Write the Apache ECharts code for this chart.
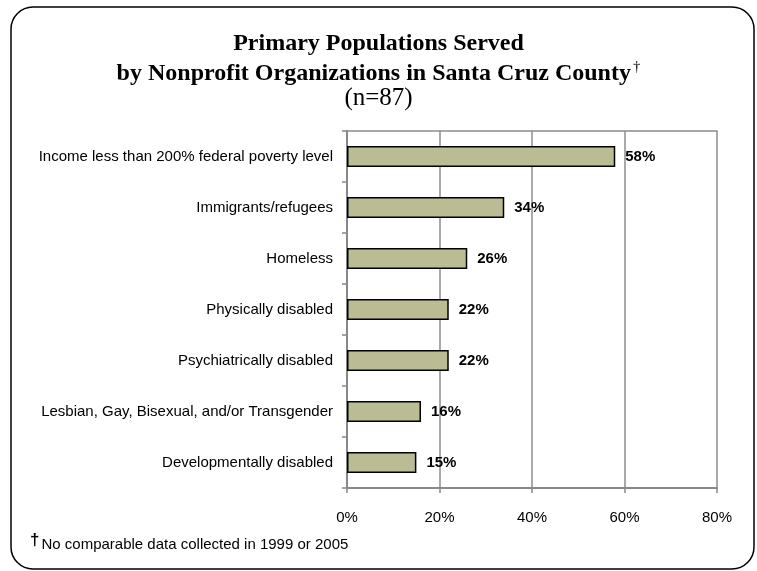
<!DOCTYPE html>
<html>
<head>
<meta charset="utf-8">
<script src="https://cdn.jsdelivr.net/npm/echarts@6/dist/echarts.min.js"></script>
<style>
  html, body { margin: 0; padding: 0; background: #fff; }
  #app { width: 757px; height: 571px; }
</style>
</head>
<body>
<div id="app"></div>
<script>
var categories = [
  'Income less than 200% federal poverty level',
  'Immigrants/refugees',
  'Homeless',
  'Physically disabled',
  'Psychiatrically disabled',
  'Lesbian, Gay, Bisexual, and/or Transgender',
  'Developmentally disabled'
];
var percentValues = [58, 34, 26, 22, 22, 16, 15];
var xTicks = [0, 20, 40, 60, 80];

window.onload = function() {
  var myChart = echarts.init(document.getElementById('app'));
  var serifBold = {
    fontFamily: 'Liberation Serif',
    fontWeight: 'bold',
    fontSize: 24,
    color: '#000'
  };
  var option = {
    animation: false,
    title: [{
      text: 'Primary Populations Served',
      left: 'center',
      top: 32,
      padding: 0,
      textStyle: serifBold
    }, {
      text: 'by Nonprofit Organizations in Santa Cruz County{sup|†}',
      left: 'center',
      top: 60,
      padding: 0,
      textStyle: {
        fontFamily: 'Liberation Serif',
        fontWeight: 'bold',
        fontSize: 24,
        color: '#000',
        rich: {
          sup: { fontFamily: 'Liberation Serif', fontSize: 15, fontWeight: 'normal', color: '#000', padding: [0, 0, 12, 2] }
        }
      }
    }, {
      text: '(n=87)',
      left: 'center',
      top: 86,
      padding: 0,
      textStyle: {
        fontFamily: 'Liberation Serif',
        fontWeight: 'normal',
        fontSize: 25,
        color: '#000'
      }
    }, {
      text: '{d|†}{t|No comparable data collected in 1999 or 2005}',
      left: 30,
      top: 532,
      padding: 0,
      textStyle: {
        fontWeight: 'normal',
        rich: {
          d: { fontFamily: 'Liberation Sans', fontSize: 17, fontWeight: 'bold', color: '#000', padding: [0, 2, 9, 0] },
          t: { fontFamily: 'Liberation Sans', fontSize: 15, fontWeight: 'normal', color: '#000' }
        }
      }
    }],
    graphic: [{
      type: 'rect',
      shape: { x: 11, y: 7, width: 743, height: 562, r: 22 },
      style: { fill: 'none', stroke: '#000', lineWidth: 1.5 },
      silent: true
    }],
    grid: {
      left: 347,
      right: 40,
      top: 131,
      bottom: 83
    },
    xAxis: [{
      type: 'value',
      min: 0,
      max: 80,
      interval: 20,
      axisLine: { show: true, lineStyle: { color: '#888', width: 2 } },
      axisTick: { show: true, inside: false, length: 5, lineStyle: { color: '#888', width: 1.5 } },
      axisLabel: {
        margin: 22,
        fontFamily: 'Liberation Sans',
        fontSize: 15,
        color: '#000',
        formatter: function(v) { return xTicks.indexOf(v) >= 0 ? v + '%' : ''; }
      },
      splitLine: { show: true, lineStyle: { color: '#8c8c8c', width: 1.5 } }
    }, {
      type: 'value',
      position: 'top',
      min: 0,
      max: 80,
      axisLine: { show: true, lineStyle: { color: '#8c8c8c', width: 1.5 } },
      axisTick: { show: false },
      axisLabel: { show: false },
      splitLine: { show: false }
    }],
    yAxis: {
      type: 'category',
      data: categories,
      inverse: true,
      axisLine: { show: true, lineStyle: { color: '#888', width: 2 } },
      axisTick: { show: true, length: 5, lineStyle: { color: '#888', width: 1.5 } },
      axisLabel: {
        margin: 14,
        fontFamily: 'Liberation Sans',
        fontSize: 15,
        color: '#000'
      }
    },
    series: [{
      type: 'bar',
      data: percentValues,
      barWidth: 21,
      itemStyle: {
        color: '#bbbc94',
        borderColor: '#000',
        borderWidth: 1.5
      },
      label: {
        show: true,
        position: 'right',
        distance: 10,
        fontFamily: 'Liberation Sans',
        fontWeight: 'bold',
        fontSize: 15,
        color: '#000',
        formatter: '{c}%'
      }
    }]
  };
  myChart.setOption(option);
};
</script>
</body>
</html>
